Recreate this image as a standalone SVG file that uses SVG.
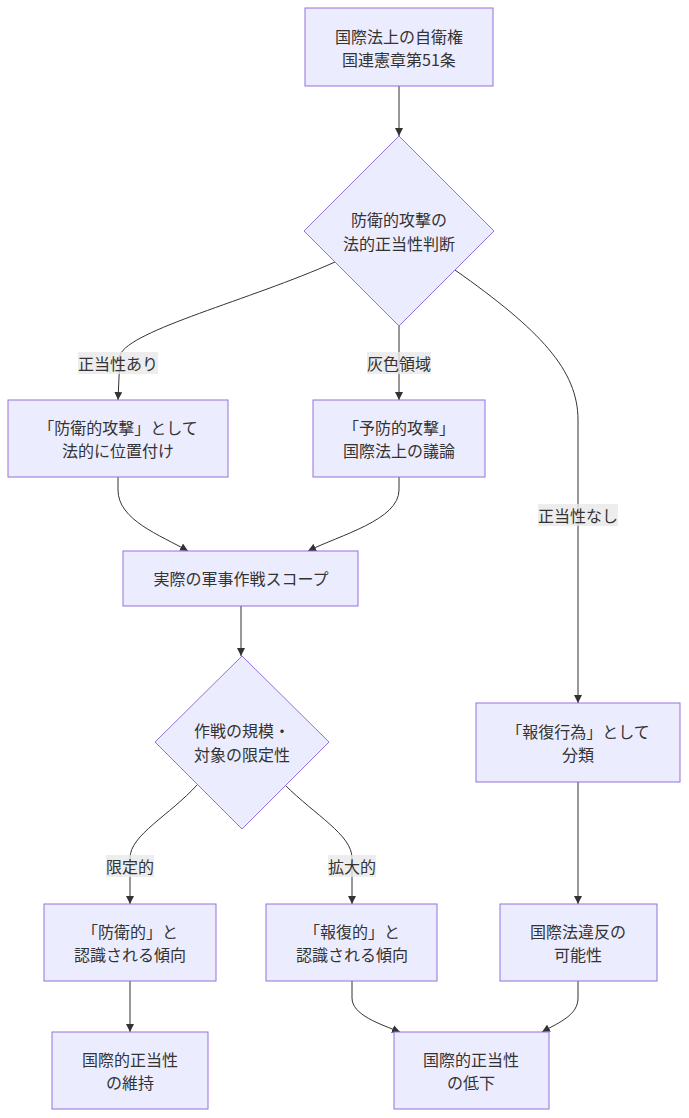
<svg xmlns="http://www.w3.org/2000/svg" width="689" height="1118" viewBox="0 0 689 1118">
<style>
.node rect,.node polygon{fill:#ECECFF;stroke:#9370DB;stroke-width:1}
text{font-family:"Noto Sans CJK JP","Noto Sans",sans-serif;font-size:16px;fill:#333333;text-anchor:middle;dominant-baseline:central}
.edge{fill:none;stroke:#333333;stroke-width:1}
.lbl rect{fill:#E8E8E8;fill-opacity:0.8;stroke:none}
</style>
<defs>
<marker id="arr" viewBox="0 0 10 10" refX="10" refY="5" markerWidth="8" markerHeight="8" markerUnits="userSpaceOnUse" orient="auto"><path d="M0,0 L10,5 L0,10 z" fill="#333333"/></marker>
</defs>
<rect width="689" height="1118" fill="#ffffff"/>
<g id="connectors">
<path class="edge" d="M399,86 L399,136" marker-end="url(#arr)"/>
<path class="edge" d="M335,262 C250,300 130,330 120,355 L118,400" marker-end="url(#arr)"/>
<path class="edge" d="M399,326 L399,400" marker-end="url(#arr)"/>
<path class="edge" d="M455,270 C540,330 578,370 578,420 L578,703" marker-end="url(#arr)"/>
<path class="edge" d="M118,477 L118,490 C118,520 160,535 188,551" marker-end="url(#arr)"/>
<path class="edge" d="M399,477 L399,490 C399,520 340,535 308,551" marker-end="url(#arr)"/>
<path class="edge" d="M241,606 L241,656" marker-end="url(#arr)"/>
<path class="edge" d="M197,785 C170,815 130,835 130,858 L130,904" marker-end="url(#arr)"/>
<path class="edge" d="M285,785 C315,815 352,835 352,858 L352,904" marker-end="url(#arr)"/>
<path class="edge" d="M578,782 L578,904" marker-end="url(#arr)"/>
<path class="edge" d="M130,981 L130,1032" marker-end="url(#arr)"/>
<path class="edge" d="M352,981 L352,998 C352,1015 380,1024 400,1032" marker-end="url(#arr)"/>
<path class="edge" d="M578,981 L578,998 C578,1015 560,1022 542,1032" marker-end="url(#arr)"/>
<g class="lbl"><rect x="78" y="352" width="80" height="22"/><text x="118" y="363">正当性あり</text></g>
<g class="lbl"><rect x="367" y="352" width="64" height="22"/><text x="399" y="363">灰色領域</text></g>
<g class="lbl"><rect x="538" y="504" width="80" height="22"/><text x="578" y="515">正当性なし</text></g>
<g class="lbl"><rect x="106" y="855" width="48" height="22"/><text x="130" y="866">限定的</text></g>
<g class="lbl"><rect x="328" y="855" width="48" height="22"/><text x="352" y="866">拡大的</text></g>
</g>
<g id="A" class="node"><rect x="305" y="8" width="188" height="78"/><text x="399" y="36">国際法上の自衛権</text><text x="399" y="59">国連憲章第51条</text></g>
<g id="B" class="node"><polygon points="399,136 494,231 399,326 304,231"/><text x="399" y="219">防衛的攻撃の</text><text x="399" y="243">法的正当性判断</text></g>
<g id="C" class="node"><rect x="8" y="400" width="220" height="77"/><text x="118" y="427">「防衛的攻撃」として</text><text x="118" y="450">法的に位置付け</text></g>
<g id="D" class="node"><rect x="313" y="400" width="172" height="77"/><text x="399" y="427">「予防的攻撃」</text><text x="399" y="450">国際法上の議論</text></g>
<g id="E" class="node"><rect x="123" y="551" width="235" height="55"/><text x="241" y="578">実際の軍事作戦スコープ</text></g>
<g id="F" class="node"><rect x="476" y="703" width="204" height="79"/><text x="578" y="731">「報復行為」として</text><text x="578" y="754">分類</text></g>
<g id="G" class="node"><polygon points="242,656 329,742 242,829 155,742"/><text x="242" y="730">作戦の規模・</text><text x="242" y="754">対象の限定性</text></g>
<g id="H" class="node"><rect x="44" y="904" width="172" height="77"/><text x="130" y="931">「防衛的」と</text><text x="130" y="954">認識される傾向</text></g>
<g id="I" class="node"><rect x="266" y="904" width="171" height="77"/><text x="352" y="931">「報復的」と</text><text x="352" y="954">認識される傾向</text></g>
<g id="J" class="node"><rect x="500" y="904" width="157" height="77"/><text x="578" y="931">国際法違反の</text><text x="578" y="954">可能性</text></g>
<g id="K" class="node"><rect x="52" y="1032" width="156" height="77"/><text x="130" y="1059">国際的正当性</text><text x="130" y="1082">の維持</text></g>
<g id="L" class="node"><rect x="394" y="1032" width="155" height="77"/><text x="471" y="1059">国際的正当性</text><text x="471" y="1082">の低下</text></g>
</svg>
